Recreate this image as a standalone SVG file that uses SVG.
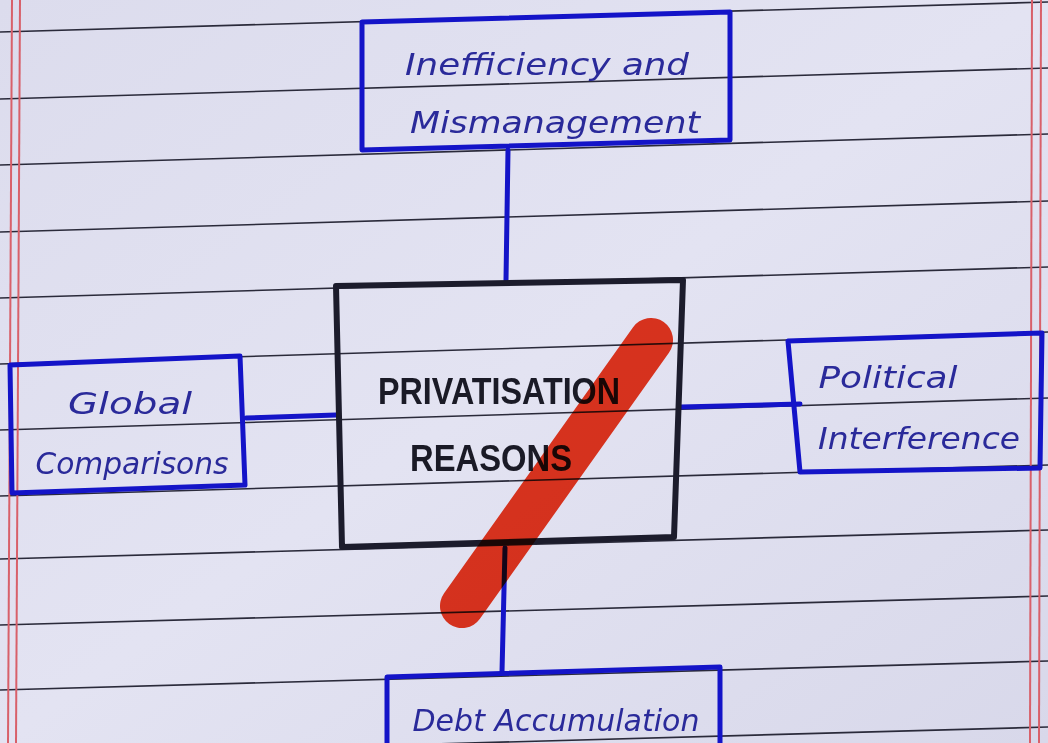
<svg xmlns="http://www.w3.org/2000/svg" width="1048" height="743" viewBox="0 0 1048 743">
<style>
.rule{stroke:#2a2a3a;stroke-width:1.6;fill:none}
.margin{stroke:#d8606a;stroke-width:2;fill:none}
.bbox{fill:none;stroke:#1414c8;stroke-width:5;stroke-linejoin:round}
.cbox{fill:none;stroke:#1c1c2c;stroke-width:6;stroke-linejoin:round}
.conn{stroke:#1414c8;stroke-width:5;fill:none;stroke-linecap:round}
.hw{font-family:"DejaVu Sans",sans-serif;font-size:31px;fill:#2a2a9a;text-anchor:middle;font-style:italic}
.ct{font-family:"Liberation Sans",sans-serif;font-weight:bold;font-size:36px;fill:#1a1a26;text-anchor:middle}
</style>
<defs>
<linearGradient id="paper" x1="0" y1="0" x2="1" y2="1">
<stop offset="0" stop-color="#dcdced"/>
<stop offset="0.5" stop-color="#e3e3f2"/>
<stop offset="1" stop-color="#d8d8ea"/>
</linearGradient>
</defs>
<rect width="1048" height="743" fill="url(#paper)"/>
<g id="ruling">
<line class="rule" x1="0" y1="32" x2="1048" y2="2"/>
<line class="rule" x1="0" y1="99" x2="1048" y2="68"/>
<line class="rule" x1="0" y1="165" x2="1048" y2="134"/>
<line class="rule" x1="0" y1="232" x2="1048" y2="201"/>
<line class="rule" x1="0" y1="298" x2="1048" y2="267"/>
<line class="rule" x1="0" y1="364" x2="1048" y2="332"/>
<line class="rule" x1="0" y1="430" x2="1048" y2="398"/>
<line class="rule" x1="0" y1="496" x2="1048" y2="465"/>
<line class="rule" x1="0" y1="559" x2="1048" y2="530"/>
<line class="rule" x1="0" y1="625" x2="1048" y2="596"/>
<line class="rule" x1="0" y1="690" x2="1048" y2="661"/>
<line class="rule" x1="0" y1="756" x2="1048" y2="727"/>
<line class="margin" x1="12" y1="0" x2="8" y2="743"/>
<line class="margin" x1="20" y1="0" x2="16" y2="743"/>
<line class="margin" x1="1032" y1="0" x2="1030" y2="743"/>
<line class="margin" x1="1041" y1="0" x2="1039" y2="743"/>
</g>
<g id="connectors">
<line class="conn" x1="508" y1="150" x2="506" y2="280"/>
<line class="conn" x1="246" y1="418" x2="336" y2="415"/>
<line class="conn" x1="681" y1="407" x2="800" y2="404"/>
<line class="conn" x1="505" y1="548" x2="502" y2="672"/>
</g>
<g id="node-inefficiency">
<polygon class="bbox" points="362,22 730,12 730,140 362,150"/>
<text class="hw" x="547" y="75" textLength="284" lengthAdjust="spacingAndGlyphs">Inefficiency and</text>
<text class="hw" x="555" y="133" textLength="290" lengthAdjust="spacingAndGlyphs">Mismanagement</text>
</g>
<g id="node-global">
<polygon class="bbox" points="10,365 240,356 245,485 12,493"/>
<text class="hw" x="130" y="414" textLength="124" lengthAdjust="spacingAndGlyphs">Global</text>
<text class="hw" x="132" y="474" textLength="193" lengthAdjust="spacingAndGlyphs">Comparisons</text>
</g>
<g id="node-political">
<polygon class="bbox" points="788,341 1042,333 1040,468 800,472"/>
<text class="hw" x="888" y="388" textLength="139" lengthAdjust="spacingAndGlyphs">Political</text>
<text class="hw" x="919" y="449" textLength="202" lengthAdjust="spacingAndGlyphs">Interference</text>
</g>
<g id="node-debt">
<polygon class="bbox" points="387,677 720,667 720,760 387,760"/>
<text class="hw" x="556" y="731" textLength="287" lengthAdjust="spacingAndGlyphs">Debt Accumulation</text>
</g>
<g id="node-center">
<polygon class="cbox" points="336,286 683,280 674,537 342,547"/>
<text class="ct" x="499" y="404" textLength="242" lengthAdjust="spacingAndGlyphs">PRIVATISATION</text>
<text class="ct" x="491" y="471" textLength="162" lengthAdjust="spacingAndGlyphs">REASONS</text>
</g>
<g id="strike">
<line x1="651" y1="340" x2="462" y2="606" stroke="#f2381f" stroke-width="44" stroke-linecap="round" style="mix-blend-mode:multiply"/>
</g>
</svg>
